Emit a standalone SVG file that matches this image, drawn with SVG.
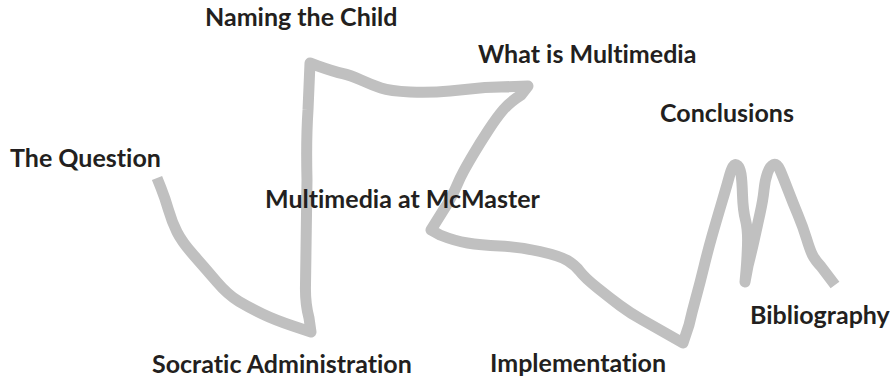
<svg xmlns="http://www.w3.org/2000/svg" width="890" height="384" viewBox="0 0 890 384">
  <style>
    .lbl { font-family: Lato, "Liberation Sans", sans-serif; font-weight: bold; font-size: 25px; fill: #231f20; font-variant-ligatures: none; font-feature-settings: "liga" 0, "clig" 0; }
    .trail { fill: none; stroke: #c0c0c0; stroke-width: 11; stroke-linejoin: round; stroke-linecap: butt; }
  </style>
  <rect width="890" height="384" fill="#ffffff"/>
  <g id="connectors">
    <path class="trail" d="M157,178 L161,188 Q165,198 168.5,210 Q172,222 177,232 Q182,242 193.5,255 Q205,268 216.5,281.5 Q228,295 239,301.5 Q250,308 262.5,314 Q275,320 293,326 L311,332 L309,318 Q305,303 305.5,285 L307,180 Q306,140 308,110 L310,63 L318,66 Q335,72 342.5,73.5 Q350,75 361,80 Q372,85 381,88 Q390,91 410,92 Q430,93 450,91 Q470,89 485,87.5 L528,86 L521,95 Q510,102 503.5,109.5 Q497,117 488.5,130 Q480,143 473.5,154 Q467,165 463.5,171.5 Q460,178 457.5,184 Q455,190 451,197.5 Q447,205 443.5,210 L431,230 L440,235 Q455,241 467.5,243 Q480,245 500,246 Q520,247 540,251.5 Q560,256 567.5,260.5 Q575,265 580,271.5 Q585,278 597.5,288 Q610,298 620,305.5 Q630,313 642.5,320 L683,343 L689,325 Q692,312 696,297.5 Q700,283 704,266.5 Q708,250 712,236 Q716,222 721.5,203.5 Q727,185 729,177.5 Q731,170 733,166.5 Q735,163 737.5,165.5 Q740,168 741,174 Q742,180 742.5,195 Q743,210 745.5,220 Q748,230 747.5,245 Q747,260 746,271 L745,282 L748,266 Q752,250 754.5,238.5 Q757,227 760,213.5 Q763,200 764,190 Q765,180 767.5,173 Q770,166 773.5,164.5 Q777,163 780,170 Q783,177 788,190 Q793,203 798,215 Q803,227 806.5,238.5 Q810,250 812.5,255 Q815,260 821,266.5 L835,285"/>
  </g>
  <g id="the-question"><text class="lbl" x="10" y="167">The Question</text></g>
  <g id="naming-the-child"><text class="lbl" x="205" y="26">Naming the Child</text></g>
  <g id="what-is-multimedia"><text class="lbl" x="478" y="63">What is Multimedia</text></g>
  <g id="conclusions"><text class="lbl" x="660" y="122">Conclusions</text></g>
  <g id="multimedia-at-mcmaster"><text class="lbl" x="265" y="208">Multimedia at McMaster</text></g>
  <g id="socratic-administration"><text class="lbl" x="152" y="373">Socratic Administration</text></g>
  <g id="implementation"><text class="lbl" x="490" y="372">Implementation</text></g>
  <g id="bibliography"><text class="lbl" x="750" y="324">Bibliography</text></g>
</svg>
